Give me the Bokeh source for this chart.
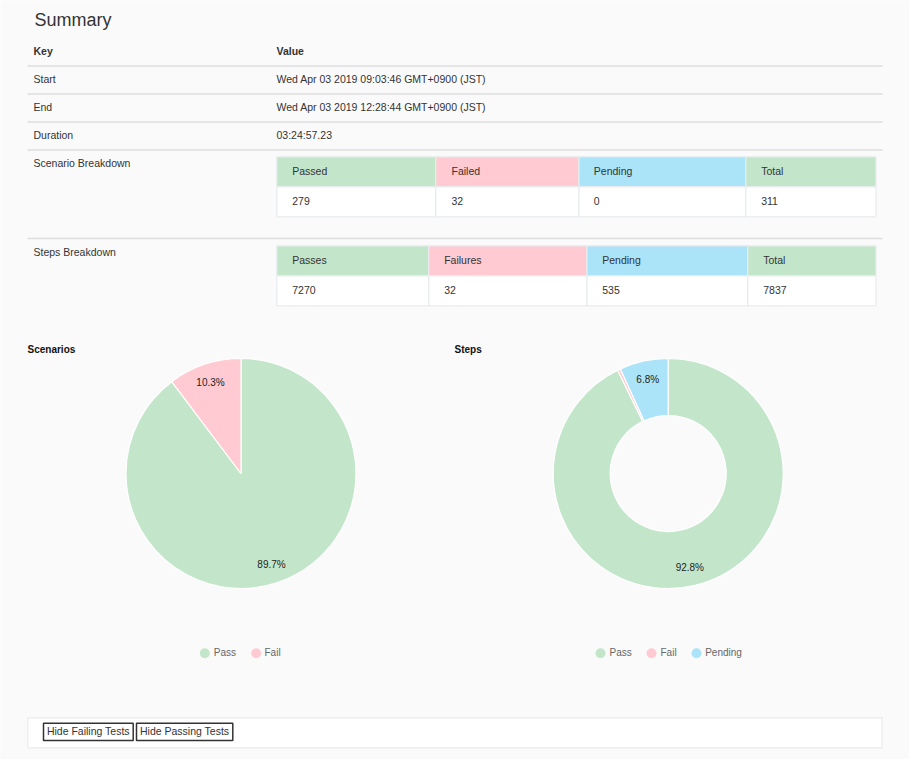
import numpy as np
from bokeh.plotting import figure
from bokeh.models import Range1d, ColumnDataSource
from bokeh.core.properties import value
from bokeh.embed import file_html
from bokeh.resources import INLINE

# ---------------- data ----------------
page_title = "Summary"
table_head = ["Key", "Value"]
summary_keys = ["Start", "End", "Duration"]
summary_values = ["Wed Apr 03 2019 09:03:46 GMT+0900 (JST)",
                  "Wed Apr 03 2019 12:28:44 GMT+0900 (JST)",
                  "03:24:57.23"]
breakdown_keys = ["Scenario Breakdown", "Steps Breakdown"]
scenario_headers = ["Passed", "Failed", "Pending", "Total"]
scenario_counts = [279, 32, 0, 311]
steps_headers = ["Passes", "Failures", "Pending", "Total"]
steps_counts = [7270, 32, 535, 7837]
pie_titles = ["Scenarios", "Steps"]
scenario_labels = ["Pass", "Fail"]
scenario_values = [279, 32]
steps_labels = ["Pass", "Fail", "Pending"]
steps_values = [7270, 32, 535]
button_labels = ["Hide Failing Tests", "Hide Passing Tests"]

# ---------------- style ----------------
BG = "#fafafa"
GREEN = "#c3e6cb"
PINK = "#ffcad1"
BLUE = "#abe3f8"
TXT = "#333333"
FONT = value("Liberation Sans")
FS = "10.5px"

W, H = 909, 759
p = figure(width=W, height=H, output_backend="svg", toolbar_location=None,
           x_range=Range1d(0, W), y_range=Range1d(0, H),
           min_border=0, background_fill_color=BG, border_fill_color=BG,
           outline_line_color=None)
p.axis.visible = False
p.grid.visible = False


def Y(v):
    return H - v


def txt(x, y, s, size=FS, color=TXT, style="normal", align="left"):
    p.text(x=[x], y=[Y(y - 1)], text=[s], text_font=FONT, text_font_size=size,
           text_color=color, text_baseline="middle", text_align=align,
           text_font_style=style)


# heading
txt(34, 20, page_title, size="18px")

# summary table
txt(33, 51, table_head[0], style="bold")
txt(276, 51, table_head[1], style="bold")
row_y = [79, 107, 135]
for k, v, y in zip(summary_keys, summary_values, row_y):
    txt(33, y, k)
    txt(276, y, v)
for ly in [65.5, 93.5, 121.5, 149.5, 238]:
    p.segment(x0=[27], y0=[Y(ly)], x1=[882], y1=[Y(ly)], line_color="#dedede", line_width=1.3)
txt(33, 163, breakdown_keys[0])
txt(33, 252, breakdown_keys[1])

# nested tables
cell_colors = [GREEN, PINK, BLUE, GREEN]


def nested(top, bounds, headers, counts, text_x):
    hb = top + 30
    db = top + 60
    for i in range(4):
        p.quad(left=[bounds[i]], right=[bounds[i + 1]], top=[Y(top)], bottom=[Y(hb)],
               fill_color=cell_colors[i], line_color="#e8ebee", line_width=1.2)
        p.quad(left=[bounds[i]], right=[bounds[i + 1]], top=[Y(hb)], bottom=[Y(db)],
               fill_color="white", line_color="#e8ebee", line_width=1.2)
        txt(text_x[i], top + 15, headers[i])
        txt(text_x[i], top + 45, str(counts[i]))


nested(156.3, [276.3, 435.3, 578.5, 745.3, 875.5], scenario_headers, scenario_counts,
       [291.7, 451, 593.3, 760.7])
nested(245.3, [276.3, 428.3, 586.5, 747.3, 875.5], steps_headers, steps_counts,
       [291.7, 443.7, 601.7, 762.7])

# pies
txt(27, 350, pie_titles[0], size="10px", style="bold", color="#111111")
txt(454, 350, pie_titles[1], size="10px", style="bold", color="#111111")

R = 115


def pie(cx, cy, vals, colors, inner=0):
    vals = np.array(vals, dtype=float)
    frac = vals / vals.sum()
    cum_end = np.cumsum(frac)
    cum_start = cum_end - frac
    keep = frac > 0
    start = np.pi / 2 - 2 * np.pi * cum_end
    end = np.pi / 2 - 2 * np.pi * cum_start
    src = ColumnDataSource(dict(x=[cx] * keep.sum(), y=[Y(cy)] * keep.sum(),
                                start=list(start[keep]), end=list(end[keep]),
                                color=[c for c, k in zip(colors, keep) if k]))
    if inner:
        p.annular_wedge(x="x", y="y", inner_radius=inner, outer_radius=R,
                        start_angle="start", end_angle="end", fill_color="color",
                        line_color="white", line_width=1.2, source=src)
    else:
        p.wedge(x="x", y="y", radius=R, start_angle="start", end_angle="end",
                fill_color="color", line_color="white", line_width=1.2, source=src)
    mid = (cum_start + cum_end) / 2
    th = np.pi / 2 - 2 * np.pi * mid
    lr = 96
    for f, t in zip(frac, th):
        if f >= 0.02:
            p.text(x=[cx + lr * np.cos(t)], y=[Y(cy) + lr * np.sin(t)],
                   text=["%.1f%%" % (f * 100)], text_font=FONT, text_font_size="10px",
                   text_color="#222222", text_align="center", text_baseline="middle")


pie(240.5, 473, scenario_values, [GREEN, PINK])
pie(667.7, 473, steps_values, [GREEN, PINK, BLUE], inner=58)


def legend(circle_x, text_x, labels, colors):
    p.scatter(x=circle_x, y=[Y(652.7)] * len(labels), size=10, fill_color=colors,
              line_color=None, marker="circle")
    for tx, lab in zip(text_x, labels):
        txt(tx, 652.7, lab, size="10px", color="#666666")


legend([204.3, 255.7], [213.3, 264], scenario_labels, [GREEN, PINK])
legend([600, 651, 696], [609, 660, 704.7], steps_labels, [GREEN, PINK, BLUE])

# bottom box with buttons
p.quad(left=[27.3], right=[881.5], top=[Y(717.3)], bottom=[Y(747.3)],
       fill_color="white", line_color="#ebebeb", line_width=1.2)
for (l, r), lab in zip([(43, 132.7), (136, 232.3)], button_labels):
    p.quad(left=[l], right=[r], top=[Y(722.7)], bottom=[Y(740)],
           fill_color="white", line_color="#333333", line_width=1.5)
    txt((l + r) / 2, 731.5, lab, align="center")

open("out.html", "w").write(file_html(p, INLINE))
